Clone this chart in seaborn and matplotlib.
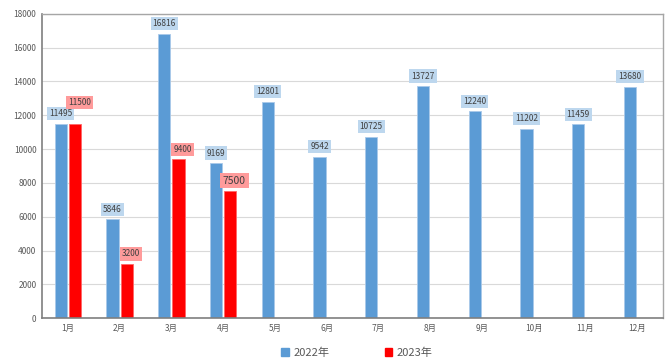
import pandas as pd
import numpy as np
import seaborn as sns
import matplotlib.pyplot as plt

months = ["1月", "2月", "3月", "4月", "5月", "6月", "7月", "8月", "9月", "10月", "11月", "12月"]
sales_2022 = [11495, 5846, 16816, 9169, 12801, 9542, 10725, 13727, 12240, 11202, 11459, 13680]
sales_2023 = [11500, 3200, 9400, 7500, None, None, None, None, None, None, None, None]
years = ["2022年", "2023年"]

sns.set_theme(style="whitegrid")
plt.rcParams['font.family'] = ['Noto Sans CJK SC', 'DejaVu Sans']

df = pd.DataFrame({
    "month": months * 2,
    "year": [years[0]] * 12 + [years[1]] * 12,
    "value": sales_2022 + sales_2023,
})

fig = plt.figure(figsize=(6.67, 3.64), dpi=100)
ax = fig.add_axes([0.063, 0.126, 0.931, 0.836])
palette = {"2022年": "#5b9bd5", "2023年": "#ff0000"}
sns.barplot(data=df, x="month", y="value", hue="year", order=months, hue_order=years,
            palette=palette, width=0.55, gap=0.15, saturation=1, ax=ax,
            edgecolor="#a9c9ea", linewidth=0.6)
for p in ax.containers[1]:
    p.set_edgecolor("#ff6666")

# value labels
box_col = {0: "#bdd7ee", 1: "#ff9b9b"}
for i, cont in enumerate(ax.containers):
    for j, p in enumerate(cont):
        h = p.get_height()
        if np.isnan(h):
            continue
        dy = 4
        fs = 6
        if i == 1 and j == 0:
            dy = 12
        if i == 1 and j == 3:
            fs = 7.5
        ax.annotate(f"{int(h)}", (p.get_x() + p.get_width() / 2, h),
                    xytext=(0 if i == 0 else 3, dy), textcoords="offset points",
                    ha="center", va="bottom", fontsize=fs, color="#404040",
                    bbox=dict(boxstyle="square,pad=0.25", fc=box_col[i], ec="none"))

ax.set_ylim(0, 18000)
ax.set_yticks(range(0, 18001, 2000))
ax.set_xlim(-0.5, 11.5)
ax.set_xlabel("")
ax.set_ylabel("")
ax.tick_params(axis="both", labelsize=6, colors="#595959", length=0, pad=4)
ax.grid(axis="y", color="#d9d9d9", linewidth=0.8)
ax.grid(axis="x", visible=False)
for s in ["left", "bottom"]:
    ax.spines[s].set_color("#7f7f7f")
    ax.spines[s].set_linewidth(1.2)
for s in ["top", "right"]:
    ax.spines[s].set_color("#a6a6a6")
    ax.spines[s].set_linewidth(1.0)

ax.legend_.remove()
handles = [plt.Rectangle((0, 0), 1, 1, color=palette[y]) for y in years]
fig.legend(handles, years, loc="lower center", bbox_to_anchor=(0.535, -0.01), ncol=2,
           frameon=False, fontsize=8, handlelength=0.7, handleheight=0.7,
           columnspacing=5, handletextpad=0.4, labelcolor="#595959")

fig.savefig("out.png", dpi=100, facecolor="white")
